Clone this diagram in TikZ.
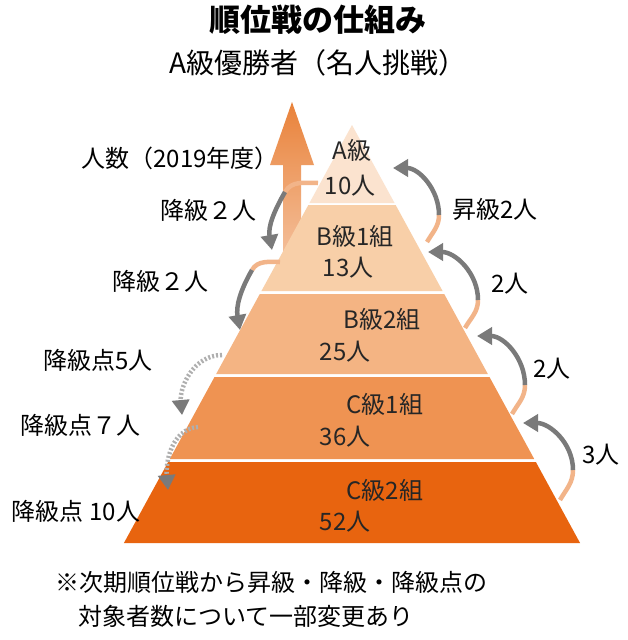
\documentclass[tikz,border=0pt]{standalone}
\usepackage{fontspec}
\setmainfont{Noto Sans CJK JP}
\usetikzlibrary{arrows.meta,shadings}
\definecolor{tA}{HTML}{FBE3CF}
\definecolor{tB}{HTML}{F8CFA8}
\definecolor{tC}{HTML}{F4B483}
\definecolor{tD}{HTML}{EF9352}
\definecolor{tE}{HTML}{E8640F}
\definecolor{ag}{HTML}{7A7A7A}
\definecolor{ao}{HTML}{E9823A}
\begin{document}
\begin{tikzpicture}[x=1pt,y=-1pt,
  lbl/.style={font=\fontsize{24}{24}\selectfont, inner sep=0pt},
  tier/.style={font=\fontsize{24}{24}\selectfont, inner sep=0pt, text=black!85},
  arr/.style={draw=ag, line width=4.5pt, -{Triangle[length=15pt,width=17pt]}},
  tail/.style={draw=ao!60, line width=4.5pt},
  dot/.style={draw=ag!60, line width=4.5pt, dash pattern=on 2pt off 2pt, -{Triangle[length=15pt,width=17pt,color=ag]}}]
\useasboundingbox (0,0) rectangle (627,640);
\fill[white] (0,0) rectangle (627,640);
% up arrow
\shade[bottom color=ao!50, top color=ao] (283,260) -- (283,165) -- (270,165) -- (292,102) -- (314,165) -- (301,165) -- (301,260) -- cycle;
% pyramid tiers  apex (352,125)
\def\hw#1{0.5456*(#1-125)}
\fill[tA] (352,125) -- ({352-\hw{203}},203) -- ({352+\hw{203}},203) -- cycle;
\fill[tB] ({352-\hw{205}},205) -- ({352+\hw{205}},205) -- ({352+\hw{291}},291) -- ({352-\hw{291}},291) -- cycle;
\fill[tC] ({352-\hw{294}},294) -- ({352+\hw{294}},294) -- ({352+\hw{374}},374) -- ({352-\hw{374}},374) -- cycle;
\fill[tD] ({352-\hw{377}},377) -- ({352+\hw{377}},377) -- ({352+\hw{459}},459) -- ({352-\hw{459}},459) -- cycle;
\fill[tE] ({352-\hw{462}},462) -- ({352+\hw{462}},462) -- ({352+\hw{543}},543) -- ({352-\hw{543}},543) -- cycle;
% titles
\node[font=\fontsize{31}{31}\selectfont\bfseries, inner sep=0pt] (t1) at (318,20) {順位戦の仕組み};
\node[font=\fontsize{28}{28}\selectfont, inner sep=0pt] (t2) at (318,63) {A級優勝者（名人挑戦）};
\node[lbl] (yr) at (180,158) {人数（2019年度）};
% tier labels
\node[tier] (a1) at (352,150) {A級};
\node[tier] (a2) at (350,186) {10人};
\node[tier] (b1) at (355,236) {B級1組};
\node[tier] (b2) at (348,268) {13人};
\node[tier] (c1) at (382,319) {B級2組};
\node[tier] (c2) at (345,352) {25人};
\node[tier] (d1) at (385,404) {C級1組};
\node[tier] (d2) at (345,437) {36人};
\node[tier] (e1) at (385,490) {C級2組};
\node[tier] (e2) at (345,522) {52人};
% side labels
\node[lbl] (l1) at (208,210) {降級２人};
\node[lbl] (l2) at (160,281) {降級２人};
\node[lbl] (l3) at (98,360) {降級点5人};
\node[lbl] (l4) at (80,425) {降級点７人};
\node[lbl] (l5) at (76,511) {降級点 10人};
\node[lbl] (r1) at (495,209) {昇級2人};
\node[lbl] (r2) at (510,284) {2人};
\node[lbl] (r3) at (552,369) {2人};
\node[lbl] (r4) at (601,455) {3人};
% left arrows
\coordinate (s1) at (318,183); \coordinate (e1a) at (272,250);
\draw[tail] (s1) to[out=180,in=60] (285,192);
\draw[arr] (285,192) to[out=240,in=100] (e1a);
\coordinate (s2) at (280,262); \coordinate (e2a) at (240,330);
\draw[tail] (s2) to[out=180,in=60] (252,270);
\draw[arr] (252,270) to[out=240,in=100] (e2a);
\coordinate (s3) at (222,355); \coordinate (e3a) at (182,415);
\draw[dot] (s3) to[out=180,in=95] (e3a);
\coordinate (s4) at (198,427); \coordinate (e4a) at (168,490);
\draw[dot] (s4) to[out=185,in=95] (e4a);
% right arrows
\coordinate (u1) at (427,242); \coordinate (v1) at (393,168);
\draw[tail] (u1) to[out=60,in=-90] (439,215);
\draw[arr] (439,215) to[out=90,in=0] (v1);
\coordinate (u2) at (465,328); \coordinate (v2) at (428,252);
\draw[tail] (u2) to[out=60,in=-90] (478,300);
\draw[arr] (478,300) to[out=90,in=0] (v2);
\coordinate (u3) at (512,414); \coordinate (v3) at (477,336);
\draw[tail] (u3) to[out=60,in=-90] (525,385);
\draw[arr] (525,385) to[out=90,in=0] (v3);
\coordinate (u4) at (560,500); \coordinate (v4) at (523,423);
\draw[tail] (u4) to[out=60,in=-90] (573,470);
\draw[arr] (573,470) to[out=90,in=0] (v4);
% note
\node[lbl, anchor=west] (n1) at (55,582) {※次期順位戦から昇級・降級・降級点の};
\node[lbl, anchor=west] (n2) at (78,616) {対象者数について一部変更あり};
\end{tikzpicture}
\end{document}
